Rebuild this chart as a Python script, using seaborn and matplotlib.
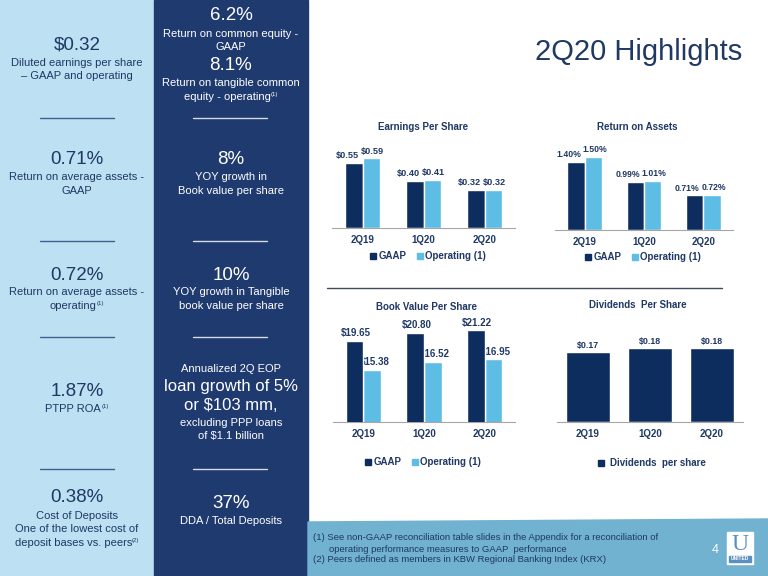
import pandas as pd
import matplotlib.pyplot as plt
import seaborn as sns
from matplotlib.patches import Rectangle, Polygon
from matplotlib.lines import Line2D

# ---- data ----
quarters = ['2Q19', '1Q20', '2Q20']
series_names = ['GAAP', 'Operating (1)']
eps_gaap = [0.55, 0.40, 0.32]
eps_oper = [0.59, 0.41, 0.32]
roa_gaap = [1.40, 0.99, 0.71]
roa_oper = [1.50, 1.01, 0.72]
bvps_gaap = [19.65, 20.80, 21.22]
bvps_oper = [15.38, 16.52, 16.95]
dps = [0.17, 0.18, 0.18]

W, H = 768, 576
NAVY = '#1F3864'
BAR_DARK = '#0D2D5E'
BAR_LIGHT = '#5DBDE5'
LIGHT_PANEL = '#BEE0F3'
DARK_PANEL = '#1F3A6F'
FOOTER = '#70B2D0'
AXIS_GRAY = '#A6A6A6'


def fx(x):
    return x / W


def fy(y):
    return 1 - y / H


def make_axes(fig, x0, x1, top, base):
    ax = fig.add_axes([fx(x0), fy(base), (x1 - x0) / W, (base - top) / H])
    ax.set_facecolor('none')
    for s in ['top', 'right', 'left']:
        ax.spines[s].set_visible(False)
    ax.spines['bottom'].set_color(AXIS_GRAY)
    ax.spines['bottom'].set_linewidth(0.8)
    ax.set_yticks([])
    return ax


def style_xaxis(ax):
    ax.set_xlim(-0.5, 2.5)
    ax.set_xticks(range(len(quarters)))
    ax.set_xticklabels(quarters)
    ax.set_xticks([-0.5, 0.5, 1.5, 2.5], minor=True)
    ax.tick_params(axis='x', which='major', length=0, pad=5, labelsize=7, labelcolor=NAVY)
    ax.tick_params(axis='x', which='minor', length=4, color=AXIS_GRAY, width=0.8)
    for lab in ax.get_xticklabels():
        lab.set_fontweight('bold')


def grouped_chart(fig, gaap, oper, fmt, x0, x1, top, base, ylim,
                  offsets=(-4.3, 0.8), size=6.6, low_labels=False):
    df = pd.DataFrame({
        'quarter': quarters * 2,
        'value': gaap + oper,
        'series': [series_names[0]] * 3 + [series_names[1]] * 3,
    })
    ax = make_axes(fig, x0, x1, top, base)
    sns.barplot(data=df, x='quarter', y='value', hue='series', order=quarters,
                hue_order=series_names, palette=[BAR_DARK, BAR_LIGHT],
                width=0.58, saturation=1, legend=False, ax=ax)
    ax.set_ylim(*ylim)
    ax.set_xlabel('')
    ax.set_ylabel('')
    # labels pushed slightly apart, as on the slide
    for cont, vals, dx in zip(ax.containers, [gaap, oper], offsets):
        texts = ax.bar_label(cont, labels=[fmt(v) for v in vals], padding=2,
                             fontsize=size, fontweight='bold', color=NAVY)
        for t in texts:
            t.xyann = (dx, 2)
            if low_labels:
                t.set_zorder(1)
    if low_labels:
        for p in ax.containers[0].patches:
            p.set_zorder(5)
    style_xaxis(ax)
    return ax


def legend_two(fig, cx, cy):
    handles = [Line2D([], [], marker='s', ls='', color=BAR_DARK, markersize=5),
               Line2D([], [], marker='s', ls='', color=BAR_LIGHT, markersize=5)]
    leg = fig.legend(handles, series_names, loc='center', bbox_to_anchor=(fx(cx), fy(cy)),
                     ncol=2, frameon=False, handlelength=0.7, handletextpad=0.2,
                     columnspacing=1.0, prop={'size': 7, 'weight': 'bold'})
    for t in leg.get_texts():
        t.set_color(NAVY)


sns.set_theme(style='white')
plt.rcParams['font.family'] = ['Liberation Sans', 'DejaVu Sans']

fig = plt.figure(figsize=(W / 100, H / 100), dpi=100)
fig.patch.set_facecolor('white')

# background panels
fig.patches.append(Rectangle((0, 0), fx(154), 1, transform=fig.transFigure,
                             color=LIGHT_PANEL, zorder=0))
fig.patches.append(Rectangle((fx(154), 0), fx(154), 1, transform=fig.transFigure,
                             color=DARK_PANEL, zorder=0))
fig.patches.append(Polygon([(fx(308), fy(522)), (1, fy(519)), (1, 0), (fx(308), 0)],
                           closed=True, transform=fig.transFigure, color=FOOTER, zorder=0))

renderer = fig.canvas.get_renderer()


def ptext(x, y, s, size, color, sup=None, weight='normal'):
    t = fig.text(fx(x), fy(y), s, ha='center', va='center', fontsize=size,
                 color=color, fontweight=weight)
    if sup:
        bb = t.get_window_extent(renderer)
        st = fig.text(bb.x1 / W, bb.y1 / H, sup, ha='left', va='top',
                      fontsize=size * 0.55, color=color)
        sw = st.get_window_extent(renderer).width
        t.set_x(fx(x - sw / 2))
        st.set_x((bb.x1 - sw / 2) / W)
    return t


# left light panel
lc = 77
ptext(lc, 45, '$0.32', 13.5, NAVY)
ptext(lc, 63, 'Diluted earnings per share', 8, NAVY)
ptext(lc, 76, '– GAAP and operating', 8, NAVY)
ptext(lc, 160, '0.71%', 13.5, NAVY)
ptext(lc, 177, 'Return on average assets -', 8, NAVY)
ptext(lc, 191, 'GAAP', 8, NAVY)
ptext(lc, 275, '0.72%', 13.5, NAVY)
ptext(lc, 292, 'Return on average assets -', 8, NAVY)
ptext(lc, 306, 'operating', 8, NAVY, sup='(1)')
ptext(lc, 392, '1.87%', 13.5, NAVY)
ptext(lc, 409, 'PTPP ROA', 8, NAVY, sup='(1)')
ptext(lc, 498, '0.38%', 13.5, NAVY)
ptext(lc, 516, 'Cost of Deposits', 8, NAVY)
ptext(lc, 529, 'One of the lowest cost of', 8, NAVY)
ptext(lc, 543, 'deposit bases vs. peers', 8, NAVY, sup='(2)')

# right dark panel
rc = 231
WH = 'white'
ptext(rc, 15, '6.2%', 13.5, WH)
ptext(rc, 34, 'Return on common equity -', 8, WH)
ptext(rc, 47, 'GAAP', 8, WH)
ptext(rc, 66, '8.1%', 13.5, WH)
ptext(rc, 83, 'Return on tangible common', 8, WH)
ptext(rc, 97, 'equity - operating', 8, WH, sup='(1)')
ptext(rc, 160, '8%', 13.5, WH)
ptext(rc, 177, 'YOY growth in', 8, WH)
ptext(rc, 191, 'Book value per share', 8, WH)
ptext(rc, 275, '10%', 13.5, WH)
ptext(rc, 292, 'YOY growth in Tangible', 8, WH)
ptext(rc, 306, 'book value per share', 8, WH)
ptext(rc, 369, 'Annualized 2Q EOP', 8, WH)
ptext(rc, 387, 'loan growth of 5%', 12, WH)
ptext(rc, 406, 'or $103 mm,', 12, WH)
ptext(rc, 423, 'excluding PPP loans', 8, WH)
ptext(rc, 436, 'of $1.1 billion', 8, WH)
ptext(rc, 503, '37%', 13.5, WH)
ptext(rc, 521, 'DDA / Total Deposits', 8, WH)

# separator lines in the panels
for yy in [118, 241, 337, 469]:
    fig.add_artist(Line2D([fx(40), fx(114)], [fy(yy), fy(yy)], color='#3E5F8F', lw=1))
    fig.add_artist(Line2D([fx(193), fx(267)], [fy(yy), fy(yy)], color='#D5DCE8', lw=1))

# slide title
fig.text(fx(639), fy(52), '2Q20 Highlights', ha='center', va='center',
         fontsize=21, color=NAVY)

# charts
grouped_chart(fig, eps_gaap, eps_oper, lambda v: f'${v:.2f}', 332, 515, 140, 228,
              (0, 0.746), offsets=(-4.3, 0.8), size=6.6)
fig.text(fx(423), fy(127), 'Earnings Per Share', ha='center', va='center',
         fontsize=7, fontweight='bold', color=NAVY)
legend_two(fig, 428, 256)

grouped_chart(fig, roa_gaap, roa_oper, lambda v: f'{v:.2f}%', 555, 733, 140, 230,
              (0, 1.85), offsets=(-5.5, 1.2), size=6.2)
fig.text(fx(637), fy(127), 'Return on Assets', ha='center', va='center',
         fontsize=7, fontweight='bold', color=NAVY)
legend_two(fig, 643, 257)

grouped_chart(fig, bvps_gaap, bvps_oper, lambda v: f'${v:.2f}', 333, 515, 318, 422,
              (7.72, 23.04), offsets=(0.8, 1.6), size=7, low_labels=True)
fig.text(fx(427), fy(307), 'Book Value Per Share', ha='center', va='center',
         fontsize=7, fontweight='bold', color=NAVY)
legend_two(fig, 423, 462)

# dividends per share
ax = make_axes(fig, 557, 743, 318, 422)
df_d = pd.DataFrame({'quarter': quarters, 'value': dps})
sns.barplot(data=df_d, x='quarter', y='value', order=quarters, color=BAR_DARK,
            width=0.72, saturation=1, ax=ax)
ax.set_ylim(0, 0.252)
ax.set_xlabel('')
ax.set_ylabel('')
ax.bar_label(ax.containers[0], labels=[f'${v:.2f}' for v in dps], padding=1,
             fontsize=6.4, fontweight='bold', color=NAVY)
style_xaxis(ax)
fig.text(fx(638), fy(305), 'Dividends  Per Share', ha='center', va='center',
         fontsize=7, fontweight='bold', color=NAVY)
leg = fig.legend([Line2D([], [], marker='s', ls='', color=BAR_DARK, markersize=4)],
                 ['Dividends  per share'], loc='center', bbox_to_anchor=(fx(652), fy(463)),
                 frameon=False, handlelength=0.7, handletextpad=0.6,
                 prop={'size': 7, 'weight': 'bold'})
leg.get_texts()[0].set_color(NAVY)

# chart divider
fig.add_artist(Line2D([fx(327), fx(722)], [fy(288), fy(288)], color='#404A5A', lw=1))

# footer notes
fig.text(fx(313), fy(538), '(1) See non-GAAP reconciliation table slides in the Appendix for a reconciliation of',
         ha='left', va='center', fontsize=6.8, color=NAVY)
fig.text(fx(329), fy(549), 'operating performance measures to GAAP  performance',
         ha='left', va='center', fontsize=6.8, color=NAVY)
fig.text(fx(313), fy(560), '(2) Peers defined as members in KBW Regional Banking Index (KRX)',
         ha='left', va='center', fontsize=6.8, color=NAVY)
fig.text(fx(715), fy(550), '4', ha='center', va='center', fontsize=9, color='white')

# logo
fig.patches.append(Rectangle((fx(727), fy(564)), fx(26), 32 / H, transform=fig.transFigure,
                             color='white', zorder=1))
fig.patches.append(Rectangle((fx(729), fy(562)), fx(22), 6 / H, transform=fig.transFigure,
                             color='#5A8FC0', zorder=2))
fig.text(fx(740), fy(544), 'U', ha='center', va='center', fontsize=17, color='#5A8FC0',
         family=['Liberation Serif', 'DejaVu Serif'], zorder=3)
fig.text(fx(740), fy(559), 'UNITED', ha='center', va='center', fontsize=3.5,
         color='white', fontweight='bold', zorder=3)

plt.savefig('out.png', dpi=100)
